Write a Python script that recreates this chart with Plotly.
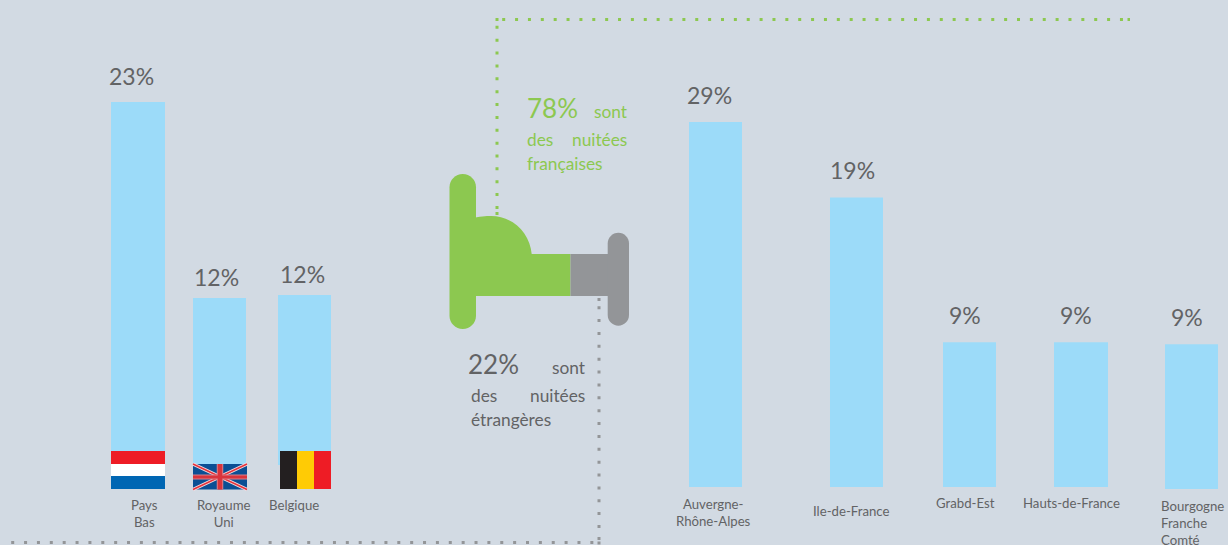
import plotly.graph_objects as go

# ---- data ----
left_categories = ["Pays<br>Bas", "Royaume<br>Uni", "Belgique"]
left_labels = ["23%", "12%", "12%"]
left_bar_values = [23.0, 11.35, 11.53]
right_categories = ["Auvergne-<br>Rhône-Alpes", "Ile-de-France", "Grabd-Est", "Hauts-de-France", "Bourgogne<br>Franche<br>Comté"]
right_labels = ["29%", "19%", "9%", "9%", "9%"]
right_bar_values = [29.0, 23.0, 11.5, 11.5, 11.5]

# ---- layout only ----
W, H = 1228, 545
BG, BLUE, GREEN, GREY, TEXT = "#d2dae3", "#9cdbf9", "#8cc850", "#939598", "#626365"
FONT = "Lato"
left_x, left_w = [138, 219.5, 304.5], [54, 53, 53]
right_x, right_w, right_base = [715.5, 856.5, 969.5, 1081, 1191.5], [53, 53, 53, 54, 53], [0, 0, 0, 0, -0.16]
left_px, left_zero = 16.83, 489
right_px, right_zero = 12.586, 487
left_label_x, left_label_y = [131, 216, 302], [76, 277, 274]
right_label_x, right_label_y = [709, 852, 965, 1076, 1187], [95, 170, 315, 315, 317]
left_cat_x, left_cat_y = [144, 224, 293.5], [513, 513, 505]
right_cat_x, right_cat_y = [713.5, 851, 965, 1071, 1159], [512, 511, 503, 503, 523]
right_cat_anchor = ["center", "center", "center", "center", "left"]

fig = go.Figure()
fig.add_bar(x=left_x, y=left_bar_values, width=left_w, marker=dict(color=BLUE, line_width=0), yaxis="y2", hoverinfo="skip")
fig.add_bar(x=right_x, y=right_bar_values, base=right_base, width=right_w, marker=dict(color=BLUE, line_width=0), yaxis="y3", hoverinfo="skip")

shapes = []
def rect(x0, y0, x1, y1, c, layer="above"):
    shapes.append(dict(type="rect", xref="x", yref="y", x0=x0, y0=y0, x1=x1, y1=y1, fillcolor=c, line_width=0, layer=layer))
def path(d, c):
    shapes.append(dict(type="path", xref="x", yref="y", path=d, fillcolor=c, line_width=0, layer="above"))
def line(x0, y0, x1, y1, c, w=3, dash="solid"):
    shapes.append(dict(type="line", xref="x", yref="y", x0=x0, y0=y0, x1=x1, y1=y1, line=dict(color=c, width=w, dash=dash), layer="above"))
def pill(x0, y0, x1, y1, c):
    r = (x1 - x0) / 2
    path(f"M{x0},{y0+r} C{x0},{y0+r*0.45} {x0+r*0.45},{y0} {x0+r},{y0} C{x1-r*0.45},{y0} {x1},{y0+r*0.45} {x1},{y0+r} "
         f"L{x1},{y1-r} C{x1},{y1-r*0.45} {x1-r*0.45},{y1} {x1-r},{y1} C{x0+r*0.45},{y1} {x0},{y1-r*0.45} {x0},{y1-r} Z", c)

# dotted leaders
DOTS = "3px,9.87px"
line(502.2, 19.5, 1124, 19.5, GREEN, 3, DOTS)
line(1127.5, 19.5, 1130, 19.5, GREEN, 3)
line(497, 18, 497, 21, GREEN, 3)
line(497, 25.8, 497, 209, GREEN, 3, DOTS)
line(497, 212, 497, 215, GREEN, 3)
line(11.2, 542.5, 598, 542.5, GREY, 3, DOTS)
line(599, 306.2, 599, 531, GREY, 3, DOTS)
line(599, 298, 599, 301, GREY, 3)
line(599, 537, 599, 545, GREY, 3, "3px,1.5px")

# bed icon
pill(449.5, 174, 476, 329, GREEN)
path("M470,296 L470,219 C480,216 486,216 491,216 C513,216 530,233 531.7,254 L570.5,254 L570.5,296 Z", GREEN)
rect(570.5, 254, 610, 296, GREY)
pill(607.7, 232.7, 629, 325.7, GREY)

# flags (and the background gap left of the Belgian flag, where the bar stops short)
rect(277, 465, 280, 490, BG)
rect(111, 451, 165, 464, "#ee1c25"); rect(111, 464, 165, 476, "#ffffff"); rect(111, 476, 165, 489, "#0066b3")
rect(280, 451, 297, 489, "#231f20"); rect(297, 451, 314, 489, "#ffcb05"); rect(314, 451, 331, 489, "#ee1c25")
rect(193, 464, 247, 489.5, "#0b4f94")
line(193, 464, 247, 489.5, "#f4dfe2", 3.5); line(193, 489.5, 247, 464, "#f4dfe2", 3.5)
line(193, 464, 247, 489.5, "#e5333c", 1.5); line(193, 489.5, 247, 464, "#e5333c", 1.5)
line(220, 464, 220, 489.5, "#d9808a", 6.5); line(193, 477, 247, 477, "#d9808a", 5)
line(220, 464, 220, 489.5, "#d9343c", 4.5); line(193, 477, 247, 477, "#d9343c", 3)

ann = []
def txt(x, y, t, size, color=TEXT, anchor="center"):
    ann.append(dict(x=x, y=y, xref="x", yref="y", text=t, showarrow=False, xanchor=anchor, yanchor="middle",
                    font=dict(family=FONT, size=size, color=color), align=anchor))
for x, y, t in zip(left_label_x, left_label_y, left_labels):
    txt(x, y, t, 23)
for x, y, t in zip(right_label_x, right_label_y, right_labels):
    txt(x, y, t, 23)
for x, y, t in zip(left_cat_x, left_cat_y, left_categories):
    txt(x, y, t, 13.2)
for x, y, t, a in zip(right_cat_x, right_cat_y, right_categories, right_cat_anchor):
    txt(x, y, t, 13.2, TEXT, a)

txt(525, 108, "78%", 26, GREEN, "left"); txt(630, 111, "sont", 17.3, GREEN, "right")
txt(525, 139, "des", 17.3, GREEN, "left"); txt(629, 139, "nuitées", 17.3, GREEN, "right")
txt(525, 163, "françaises", 17.3, GREEN, "left")
txt(466, 364, "22%", 26, TEXT, "left"); txt(588, 367, "sont", 17.3, TEXT, "right")
txt(469, 395, "des", 17.3, TEXT, "left"); txt(587, 395, "nuitées", 17.3, TEXT, "right")
txt(469, 419, "étrangères", 17.3, TEXT, "left")

def yrange(zero, px):
    return [(zero - H) / px, zero / px]

fig.update_layout(
    width=W, height=H, autosize=False, margin=dict(l=0, r=0, t=0, b=0),
    paper_bgcolor=BG, plot_bgcolor=BG, showlegend=False, barmode="overlay",
    xaxis=dict(range=[0, W], visible=False, fixedrange=True),
    yaxis=dict(range=[H, 0], visible=False, fixedrange=True),
    yaxis2=dict(range=yrange(left_zero, left_px), overlaying="y", visible=False, fixedrange=True),
    yaxis3=dict(range=yrange(right_zero, right_px), overlaying="y", visible=False, fixedrange=True),
    shapes=shapes, annotations=ann,
)
# pixel axis needs a trace to exist
fig.add_scatter(x=[0], y=[0], mode="markers", marker=dict(opacity=0), yaxis="y", hoverinfo="skip")
fig.write_html("out.html", config={"displayModeBar": False},
               post_script="document.body.style.margin='0';document.body.style.overflow='hidden';")
